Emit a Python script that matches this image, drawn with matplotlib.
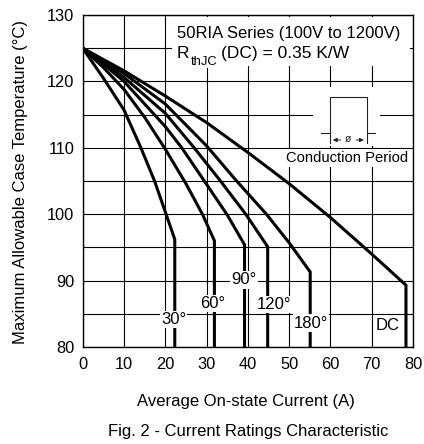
import matplotlib
matplotlib.use("Agg")
import matplotlib.pyplot as plt
from matplotlib.patches import Rectangle

plt.rcParams['font.family'] = ['Liberation Sans', 'DejaVu Sans']

# ---- data ----
current_30 = [0, 5, 10, 14.1, 17.4, 20.2, 22.3, 22.3]
temp_30 = [125, 120.5, 115.7, 110, 105, 100, 96.2, 80]

current_60 = [0, 5, 10, 15, 20, 25, 29, 31.9, 31.9]
temp_60 = [125, 122.1, 118.8, 114.6, 109.8, 104.6, 100, 96.0, 80]

current_90 = [0, 5, 10, 20, 24, 30, 35, 39.2, 39.2]
temp_90 = [125, 122.6, 120, 113.2, 110, 104.5, 99.9, 95.4, 80]

current_120 = [0, 10, 20, 27, 33, 39.5, 44.8, 44.8]
temp_120 = [125, 120.6, 115.2, 110, 105.3, 100, 95.1, 80]

current_180 = [0, 10, 20, 30, 37, 44.5, 50, 55.1, 55.1]
temp_180 = [125, 121.2, 116.6, 110.3, 105.2, 100, 95.7, 91.3, 80]

current_dc = [0, 10, 20, 30, 40, 50, 60, 70, 78.3, 78.3]
temp_dc = [125, 121.6, 117.8, 113.8, 109.3, 104.6, 99.5, 94.0, 89.3, 80]

curve_labels = ['30°', '60°', '90°', '120°', '180°', 'DC']
label_x = [22.05, 31.4, 39.0, 46.3, 55.3, 73.9]
label_y = [84.1, 86.6, 90.1, 86.4, 83.6, 83.2]

x_ticks = [0, 10, 20, 30, 40, 50, 60, 70, 80]
y_ticks = [80, 90, 100, 110, 120, 130]

series = [(current_30, temp_30), (current_60, temp_60), (current_90, temp_90),
          (current_120, temp_120), (current_180, temp_180), (current_dc, temp_dc)]

fig = plt.figure(figsize=(4.24, 4.44), dpi=100)
ax = fig.add_axes([82.7 / 424, 1 - 347 / 444, 330.3 / 424, 332 / 444])

ax.set_xlim(0, 80)
ax.set_ylim(80, 130)
ax.set_xticks(x_ticks)
ax.set_yticks(y_ticks)
ax.set_yticks(range(80, 131, 5), minor=True)
ax.set_axisbelow(True)
ax.grid(True, which='both', color='black', linewidth=0.8)
ax.tick_params(which='both', length=0)
ax.tick_params(axis='y', pad=6, labelsize=11.8)
ax.tick_params(axis='x', pad=7, labelsize=11.8)
for s in ax.spines.values():
    s.set_color('black')
    s.set_linewidth(1.0)

for cx, ty in series:
    ax.plot(cx, ty, color='black', linewidth=2.2, zorder=4, solid_joinstyle='miter')

for lab, lx, ly in zip(curve_labels, label_x, label_y):
    ax.text(lx, ly, lab, ha='center', va='center', fontsize=12, zorder=5,
            bbox=dict(facecolor='white', edgecolor='none', pad=0.8))

def axx(px):
    return (px - 82.7) / 330.3

def axy(py):
    return (347 - py) / 332

# header text block
ax.add_patch(Rectangle((axx(172), axy(66)), axx(410) - axx(172), axy(17) - axy(66),
                       transform=ax.transAxes, facecolor='white', edgecolor='none', zorder=2))
ax.text(axx(176.7), axy(33.3), '50RIA Series (100V to 1200V)', transform=ax.transAxes,
        ha='left', va='center', fontsize=12, zorder=3)
ax.text(axx(176.7), axy(53.3), 'R', transform=ax.transAxes,
        ha='left', va='center', fontsize=12.5, zorder=3)
ax.text(axx(191.0), axy(61.7), 'thJC', transform=ax.transAxes,
        ha='left', va='center', fontsize=9.4, zorder=3,
        bbox=dict(facecolor='white', edgecolor='none', pad=0.5))
ax.text(axx(221.0), axy(53.3), '(DC) = 0.35 K/W', transform=ax.transAxes,
        ha='left', va='center', fontsize=12.5, zorder=3)

# conduction period inset
ax.add_patch(Rectangle((axx(313), axy(146)), axx(380) - axx(313), axy(87) - axy(146),
                       transform=ax.transAxes, facecolor='white', edgecolor='none', zorder=2))
ax.text(axx(346.7), axy(158.0), 'Conduction Period', transform=ax.transAxes,
        ha='center', va='center', fontsize=10.6, zorder=3,
        bbox=dict(facecolor='white', edgecolor='none', pad=1.5))
lc = '#222222'
ax.plot([axx(320.7), axx(330)], [axy(133.3), axy(133.3)], transform=ax.transAxes, color=lc, lw=0.8, zorder=3)
ax.plot([axx(366.7), axx(375)], [axy(133.3), axy(133.3)], transform=ax.transAxes, color=lc, lw=0.8, zorder=3)
ax.plot([axx(330), axx(330), axx(366.7), axx(366.7)],
        [axy(143.5), axy(96.7), axy(96.7), axy(143.5)], transform=ax.transAxes, color=lc, lw=0.8, zorder=3)
ax.annotate('', xy=(axx(330), axy(140)), xytext=(axx(343.5), axy(140)), xycoords='axes fraction',
            arrowprops=dict(arrowstyle='-|>', color=lc, lw=0.7, mutation_scale=6), zorder=3)
ax.annotate('', xy=(axx(366.7), axy(140)), xytext=(axx(353.5), axy(140)), xycoords='axes fraction',
            arrowprops=dict(arrowstyle='-|>', color=lc, lw=0.7, mutation_scale=6), zorder=3)
ax.text(axx(348.4), axy(139.3), 'ø', transform=ax.transAxes, ha='center', va='center',
        fontsize=7.5, color=lc, zorder=3)

fig.text(21 / 424, 1 - 182 / 444, 'Maximum Allowable Case Temperature (°C)', rotation=90,
         ha='center', va='center', fontsize=12)
fig.text(245.8 / 424, 1 - 401.7 / 444, 'Average On-state Current (A)',
         ha='center', va='center', fontsize=12)
fig.text(248.3 / 424, 1 - 431.7 / 444, 'Fig. 2 - Current Ratings Characteristic',
         ha='center', va='center', fontsize=12)

fig.savefig('out.png', dpi=100, facecolor='white')
